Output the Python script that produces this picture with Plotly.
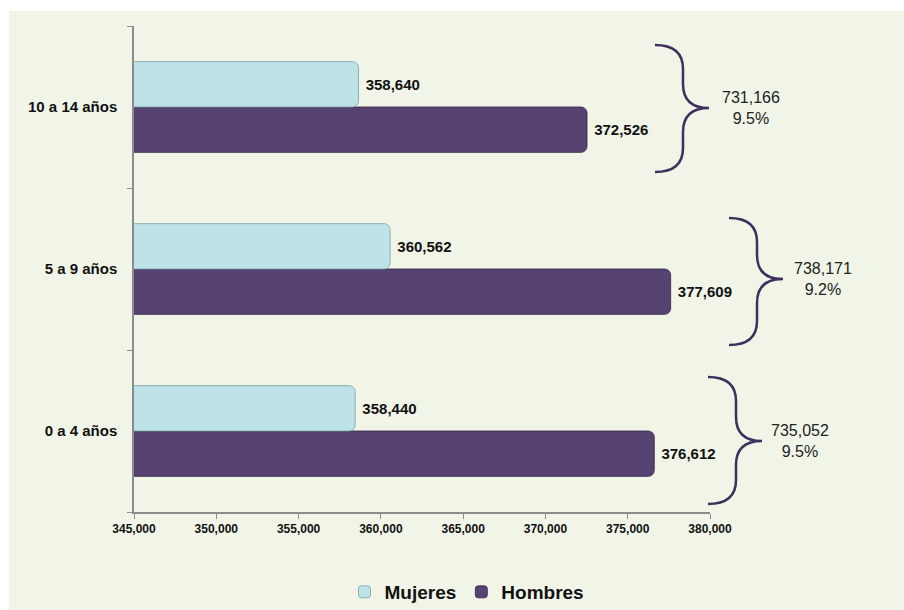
import plotly.graph_objects as go

categorias = ["0 a 4 años", "5 a 9 años", "10 a 14 años"]
mujeres = [358440, 360562, 358640]
hombres = [376612, 377609, 372526]
totales = [735052, 738171, 731166]
porcentajes = ["9.5%", "9.2%", "9.5%"]
x_ticks = [345000, 350000, 355000, 360000, 365000, 370000, 375000, 380000]

W, H = 904, 610
L, R, T, B = 134, 710, 26, 512

def px(x):
    return (x - L) / (R - L)

def py(y):
    return (B - y) / (B - T)

FONT = "Liberation Sans, Arial, sans-serif"

fig = go.Figure()
fig.add_trace(go.Bar(
    y=categorias, x=hombres, orientation="h", name="Hombres",
    marker=dict(color="#574372", line=dict(color="#2e2242", width=0.8), cornerradius=6),
    text=[f"\u00a0{v:,}" for v in hombres], textposition="outside",
    textfont=dict(family=FONT, size=15, color="#111111", weight="bold"),
    cliponaxis=False,
))
fig.add_trace(go.Bar(
    y=categorias, x=mujeres, orientation="h", name="Mujeres",
    marker=dict(color="#bde3e9", line=dict(color="#7a9ea3", width=0.8), cornerradius=6),
    text=[f"\u00a0{v:,}" for v in mujeres], textposition="outside",
    textfont=dict(family=FONT, size=15, color="#111111", weight="bold"),
    cliponaxis=False,
))

# braces (pixel geometry) and totals
braces = [
    # (left x, top y, bottom y, tip y)
    (708, 377, 504, 441),
    (729, 218, 345, 279),
    (655, 45, 172, 108),
]
text_x = [800, 823, 751]
shapes = [dict(type="rect", xref="paper", yref="paper",
               x0=px(9), x1=px(W + 2), y0=py(11), y1=py(H + 2),
               fillcolor="#f1f5e8", line=dict(width=0), layer="below")]
annotations = []
for (x0, y0, y1, ty), tx, tot, pct in zip(braces, text_x, totales, porcentajes):
    xm = x0 + 28
    x1 = x0 + 54
    r = 24
    pts = [
        f"M {px(x0)},{py(y0)}",
        f"Q {px(xm)},{py(y0)} {px(xm)},{py(y0 + r)}",
        f"L {px(xm)},{py(ty - r)}",
        f"Q {px(xm)},{py(ty)} {px(x1)},{py(ty)}",
        f"Q {px(xm)},{py(ty)} {px(xm)},{py(ty + r)}",
        f"L {px(xm)},{py(y1 - r)}",
        f"Q {px(xm)},{py(y1)} {px(x0)},{py(y1)}",
    ]
    shapes.append(dict(type="path", xref="paper", yref="paper", path=" ".join(pts),
                       line=dict(color="#3f2f5c", width=2.5)))
    annotations.append(dict(xref="paper", yref="paper", x=px(tx), y=py(ty),
                            text=f"{tot:,}<br>{pct}", showarrow=False,
                            font=dict(family=FONT, size=16, color="#222222"),
                            xanchor="center", yanchor="middle", align="center"))

fig.update_layout(
    width=W, height=H,
    margin=dict(l=L, r=W - R, t=T, b=H - B, autoexpand=False),
    paper_bgcolor="#ffffff", plot_bgcolor="rgba(0,0,0,0)",
    barmode="group", bargap=0.44, bargroupgap=0,
    showlegend=True,
    legend=dict(orientation="h", x=px(467), y=py(592), xanchor="center", yanchor="middle",
                traceorder="reversed", itemwidth=30,
                font=dict(family=FONT, size=19, color="#111111", weight="bold"),
                bgcolor="rgba(0,0,0,0)"),
    shapes=shapes, annotations=annotations,
    xaxis=dict(range=[345000, 380000], tickvals=x_ticks, automargin=False,
               ticktext=[f"{v:,}" for v in x_ticks],
               showgrid=False, zeroline=False, showline=True, linecolor="#8c8c8c", linewidth=1.5,
               ticks="outside", ticklen=5, tickcolor="#8c8c8c",
               tickfont=dict(family=FONT, size=12, color="#111111", weight="bold")),
    yaxis=dict(showgrid=False, zeroline=False, showline=True, linecolor="#8c8c8c", linewidth=1.5,
               automargin=False,
               ticks="outside", ticklen=5, tickcolor="#8c8c8c", tickson="boundaries",
               ticklabelstandoff=12,
               tickfont=dict(family=FONT, size=15, color="#111111", weight="bold")),
)

post = "document.body.style.margin='0';document.body.style.overflow='hidden';"
fig.write_html("out.html", config={"displayModeBar": False}, post_script=post)
